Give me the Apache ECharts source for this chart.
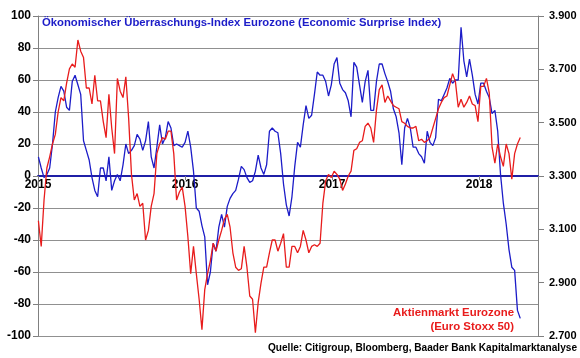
<!DOCTYPE html>
<html><head><meta charset="utf-8">
<script src="https://cdn.jsdelivr.net/npm/echarts@6/dist/echarts.min.js"></script>
<style>html,body{margin:0;padding:0;background:#fff}#c{width:580px;height:358px}</style>
</head><body><div id="c"></div>
<script>
// Weekly observations starting on this date (one value per week)
const startDate = '2015-01-02';
const yearTicks = ['2015', '2016', '2017', '2018'];
// Citi Economic Surprise Index Eurozone (left axis)
const surpriseIndex = [
  12, 5, -1, 1, 5, 20, 40, 49, 56, 53, 43, 41, 59, 63, 57, 51, 22, 16, 10, -1,
  -9, -13, 5, 5, -3, 12, -9, -3, 1, -3, 7, 20, 14, 16, 19, 26, 23, 16, 22, 34,
  12, 5, 18, 32, 20, 24, 34, 30, 19, 20, 19, 18, 21, 28, 18, 3, -20, -22, -31, -38,
  -68, -60, -42, -47, -32, -24, -32, -19, -14, -11, -9, -2, 6, 4, -1, -4, -3, 3, 13, 5,
  1, 7, 28, 30, 28, 27, 14, -5, -18, -25, -13, 6, 21, 18, 32, 44, 36, 38, 51, 65,
  63, 63, 59, 50, 57, 70, 74, 58, 54, 52, 47, 37, 71, 68, 57, 46, 59, 66, 41, 41,
  59, 70, 70, 64, 59, 53, 42, 37, 27, 7, 30, 36, 30, 18, 18, 14, 12, 8, 28, 21,
  19, 24, 48, 47, 51, 55, 61, 58, 60, 60, 93, 72, 62, 73, 63, 51, 45, 58, 58, 53,
  49, 39, 41, 28, 1, -17, -30, -46, -57, -59, -84, -89
];
// Euro Stoxx 50 index level (right axis)
const euroStoxx50 = [
  3132, 3036, 3210, 3330, 3372, 3420, 3456, 3540, 3594, 3582, 3648, 3702, 3720, 3708, 3810, 3768, 3744, 3630, 3630, 3570,
  3678, 3582, 3582, 3504, 3444, 3606, 3480, 3384, 3666, 3618, 3594, 3672, 3516, 3306, 3210, 3234, 3186, 3198, 3060, 3096,
  3186, 3234, 3384, 3420, 3444, 3438, 3468, 3468, 3384, 3210, 3240, 3258, 3186, 3072, 2934, 3036, 2934, 2838, 2724, 2874,
  2934, 2982, 3048, 3018, 3060, 3096, 3138, 3156, 3108, 3012, 2958, 2946, 2952, 3036, 2958, 2850, 2838, 2712, 2826, 2898,
  2958, 2958, 3012, 3060, 3060, 3018, 3048, 3084, 2958, 2958, 3036, 3036, 3012, 3036, 3096, 3060, 3012, 3036, 3042, 3036,
  3048, 3198, 3282, 3306, 3294, 3318, 3306, 3288, 3246, 3270, 3300, 3318, 3396, 3402, 3426, 3432, 3486, 3498, 3480, 3426,
  3546, 3624, 3642, 3576, 3600, 3582, 3564, 3558, 3552, 3504, 3498, 3486, 3480, 3480, 3486, 3432, 3438, 3426, 3432, 3444,
  3480, 3516, 3552, 3576, 3594, 3600, 3642, 3684, 3654, 3558, 3588, 3558, 3576, 3600, 3570, 3564, 3504, 3636, 3636, 3666,
  3612, 3408, 3348, 3420, 3372, 3336, 3420, 3384, 3288, 3384, 3420, 3444
];

function fracYear(ms) {
  const d = new Date(ms);
  const y = d.getUTCFullYear();
  const a = Date.UTC(y, 0, 1), b = Date.UTC(y + 1, 0, 1);
  return y + (ms - a) / (b - a);
}
const t0 = Date.parse(startDate + 'T00:00:00Z');
const weekX = surpriseIndex.map((_, i) => fracYear(t0 + i * 7 * 86400000));

const FONT = 'Liberation Sans, Arial, sans-serif';
const chart = echarts.init(document.getElementById('c'));
chart.setOption({
  animation: false,
  backgroundColor: '#fff',
  grid: { left: 38, right: 42, top: 16, bottom: 22, containLabel: false },
  xAxis: {
    type: 'value', min: 2015, max: 2018.40, interval: 1, position: 'bottom', offset: -160,
    axisLine: { onZero: false, lineStyle: { color: '#1f1fa6', width: 2 } },
    axisTick: { show: true, length: 4, lineStyle: { color: '#808080' } },
    axisLabel: {
      margin: 3, color: '#000', fontFamily: FONT, fontWeight: 'bold', fontSize: 12,
      formatter: v => (yearTicks.indexOf(String(Math.round(v))) >= 0 && Math.abs(v - Math.round(v)) < 1e-6) ? String(Math.round(v)) : ''
    },
    splitLine: { show: false }
  },
  yAxis: [
    {
      type: 'value', min: -100, max: 100, interval: 20, position: 'left',
      axisLine: { show: true, lineStyle: { color: '#808080', width: 1 } },
      axisTick: { show: true, length: 5, lineStyle: { color: '#808080' } },
      axisLabel: { margin: 7, color: '#000', fontFamily: FONT, fontWeight: 'bold', fontSize: 12 },
      splitLine: { show: true, lineStyle: { color: '#909090', width: 1 } }
    },
    {
      type: 'value', min: 2700, max: 3900, interval: 200, position: 'right',
      axisLine: { show: true, lineStyle: { color: '#808080', width: 1 } },
      axisTick: { show: true, length: 6, lineStyle: { color: '#808080' } },
      axisLabel: { margin: 11, color: '#000', fontFamily: FONT, fontWeight: 'bold', fontSize: 11,
        formatter: v => (v / 1000).toFixed(3) },
      splitLine: { show: false }
    }
  ],
  series: [
    {
      type: 'line', name: 'Surprise', yAxisIndex: 0, showSymbol: false, symbol: 'none',
      data: surpriseIndex.map((v, i) => [weekX[i], v]),
      lineStyle: { color: '#1c1cc8', width: 1.3 }, z: 3
    },
    {
      type: 'line', name: 'Euro Stoxx 50', yAxisIndex: 1, showSymbol: false, symbol: 'none',
      data: euroStoxx50.map((v, i) => [weekX[i], v]),
      lineStyle: { color: '#e81c1c', width: 1.3 }, z: 4
    }
  ],
  graphic: [
    { type: 'text', left: 42, top: 17, z: 10,
      style: { text: 'Ökonomischer Überraschungs-Index Eurozone (Economic Surprise Index)',
        fill: '#1c1cc8', font: 'bold 11.3px ' + FONT } },
    { type: 'text', right: 66, top: 307, z: 10,
      style: { text: 'Aktienmarkt Eurozone', fill: '#e81c1c', font: 'bold 11.4px ' + FONT } },
    { type: 'text', right: 66, top: 321, z: 10,
      style: { text: '(Euro Stoxx 50)', fill: '#e81c1c', font: 'bold 11.4px ' + FONT } },
    { type: 'text', right: 3, top: 343, z: 10,
      style: { text: 'Quelle: Citigroup, Bloomberg, Baader Bank Kapitalmarktanalyse', fill: '#000', font: 'bold 10.1px ' + FONT } }
  ]
});
</script></body></html>
